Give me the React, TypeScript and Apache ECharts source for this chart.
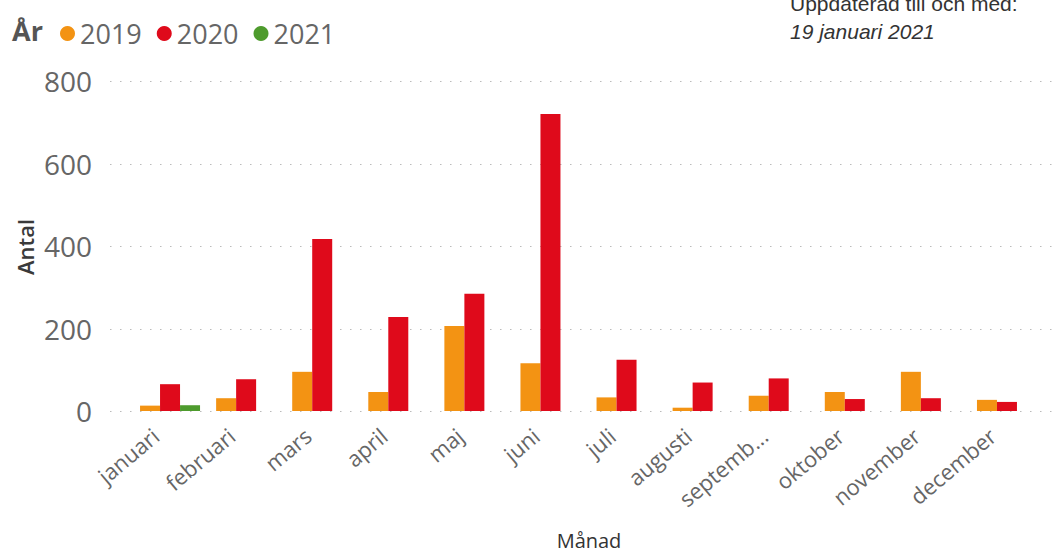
import React, { useEffect, useRef } from "react";
import * as echarts from "echarts";

const months = ["januari", "februari", "mars", "april", "maj", "juni", "juli", "augusti", "september", "oktober", "november", "december"];
const years = ["2019", "2020", "2021"];
const values2019 = [13, 31, 95, 46, 206, 116, 33, 8, 37, 46, 95, 27];
const values2020 = [65, 77, 417, 228, 284, 720, 124, 69, 79, 29, 31, 22];
const values2021 = [14, null, null, null, null, null, null, null, null, null, null, null];
const yTicks = [0, 200, 400, 600, 800];
const colors = ["#F39313", "#DF0A1B", "#4E9B2D"];

const FONT = "'Segoe UI', 'Open Sans', 'Noto Sans', sans-serif";
const SANS = "'Liberation Sans', Arial, sans-serif";

export default function App() {
  const ref = useRef<HTMLDivElement>(null);
  useEffect(() => {
    if (!ref.current) return;
    const chart = echarts.init(ref.current, undefined, { renderer: "svg" });
    const seriesData = [values2019, values2020, values2021];
    const baseGraphic: any[] = [
      { type: "text", left: 12, top: 17, style: { text: "År", fontSize: 27, fontWeight: "bold", fill: "#555", fontFamily: FONT } },
      { type: "text", x: 25, y: 247, rotation: Math.PI / 2, style: { text: "Antal", fontSize: 22, fontWeight: 600, fill: "#3a3a3a", fontFamily: FONT, align: "center", verticalAlign: "middle" } },
      { type: "text", x: 589, y: 540, style: { text: "Månad", fontSize: 20, fill: "#333", fontFamily: FONT, align: "center", verticalAlign: "middle" } },
      { type: "text", x: 790, y: 3, style: { text: "Uppdaterad till och med:", fontSize: 21, fill: "#333", fontFamily: SANS, verticalAlign: "middle" } },
      { type: "text", x: 790, y: 31, style: { text: "19 januari 2021", fontSize: 21, fontStyle: "italic", fill: "#333", fontFamily: SANS, verticalAlign: "middle" } },
    ];
    chart.setOption({
      animation: false,
      textStyle: { fontFamily: FONT },
      grid: { left: 132, right: 9, top: 81, bottom: 143 },
      legend: {
        data: years,
        left: 55,
        top: 15,
        icon: "circle",
        itemWidth: 15,
        itemHeight: 15,
        itemGap: 15,
        textStyle: { fontSize: 27, color: "#666", fontFamily: FONT },
      },
      xAxis: {
        type: "category",
        data: months,
        axisLine: { show: false },
        axisTick: { show: false },
        axisLabel: {
          rotate: 40,
          fontSize: 22,
          color: "#666",
          margin: 9,
          interval: 0,
          padding: [0, 19, 0, 0],
          formatter: (v: string) => (v === "september" ? "septemb..." : v),
        },
      },
      yAxis: {
        type: "value",
        min: yTicks[0],
        max: yTicks[yTicks.length - 1],
        interval: 200,
        axisLine: { show: false },
        axisTick: { show: false },
        axisLabel: { fontSize: 28, color: "#666", margin: 40 },
        splitLine: { show: false },
      },
      series: years.map((y, i) => ({
        name: y,
        type: "bar",
        data: seriesData[i],
        barWidth: 20,
        barGap: "0%",
        itemStyle: { color: colors[i] },
      })),
      graphic: baseGraphic,
    });
    const gridLines = yTicks.map((t) => {
      const py = Math.round(chart.convertToPixel({ yAxisIndex: 0 }, t) as number) + 0.5;
      return {
        type: "line",
        z: -1,
        shape: { x1: 110, y1: py, x2: 1054, y2: py },
        style: { stroke: "#bbb", lineWidth: 1.2, lineDash: [1.5, 8.5] },
      };
    });
    chart.setOption({ graphic: [...baseGraphic, ...gridLines] });
    return () => chart.dispose();
  }, []);
  return <div ref={ref} style={{ position: "fixed", left: 0, top: 0, width: 1054, height: 554, background: "#fff" }} />;
}
